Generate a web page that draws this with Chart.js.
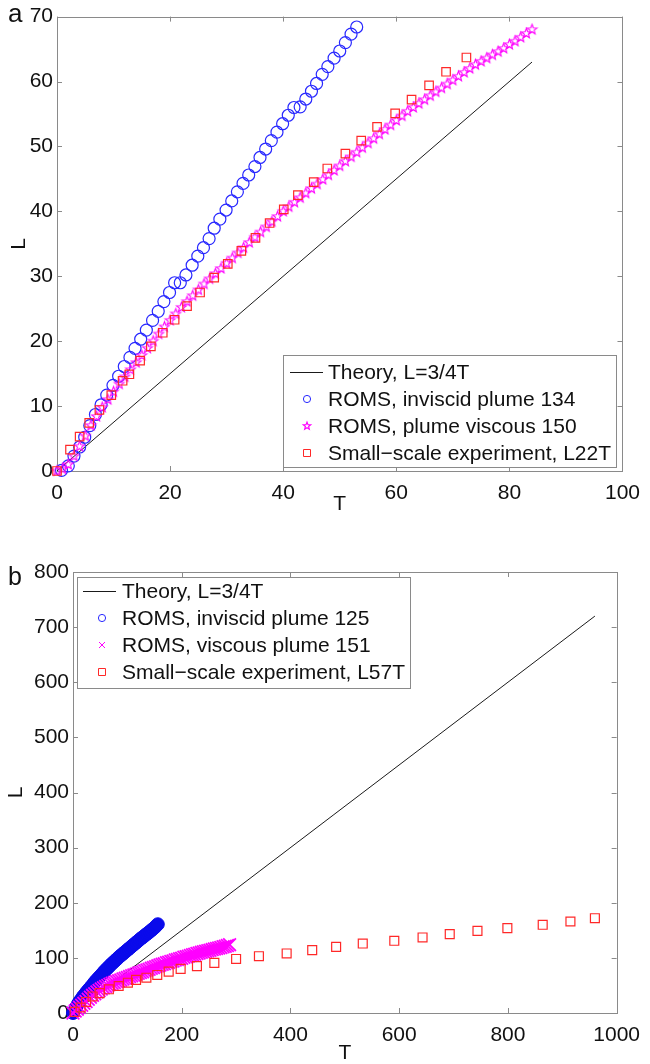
<!DOCTYPE html>
<html>
<head>
<meta charset="utf-8">
<script src="https://cdn.jsdelivr.net/npm/chart.js@4.4.1/dist/chart.umd.min.js"></script>
<style>
html, body { margin: 0; padding: 0; background: #fff; }
#wrap { position: relative; width: 650px; height: 1064px; overflow: hidden; }
.panel { position: absolute; left: 0; width: 650px; }
#top { top: 0; height: 530px; }
#bot { top: 530px; height: 534px; }
</style>
</head>
<body>
<div id="wrap">
  <div class="panel" id="top"><canvas id="chartA" width="650" height="530"></canvas></div>
  <div class="panel" id="bot"><canvas id="chartB" width="650" height="534"></canvas></div>
</div>
<script>
// ---- panel a ----
const tickTa = [0, 20, 40, 60, 80, 100];
const tickLa = [0, 10, 20, 30, 40, 50, 60, 70];

const theoryTa = [0, 84];
const theoryLa = [0, 63];

const invT134 = [0.8, 2.0, 3.0, 4.0, 4.9, 5.8, 6.8, 7.8, 8.8, 9.9, 10.9, 11.9, 12.9, 13.8, 14.8,
  15.8, 16.9, 17.9, 18.9, 19.9, 20.8, 21.8, 22.8, 23.9, 24.9, 25.9, 26.9, 27.8, 28.8, 29.9,
  30.9, 31.9, 32.9, 33.9, 35.0, 35.9, 36.9, 37.9, 38.9, 39.9, 40.9, 41.9, 43.0, 44.0, 45.0,
  45.9, 46.9, 47.9, 49.0, 50.0, 51.0, 52.0, 53.0];
const invL134 = [0.1, 0.8, 2.3, 3.7, 5.2, 7.0, 8.7, 10.2, 11.7, 13.2, 14.6, 16.1, 17.5, 18.9, 20.3,
  21.7, 23.2, 24.6, 26.1, 27.5, 29.0, 29.0, 30.2, 31.7, 33.1, 34.4, 35.8, 37.4, 38.8, 40.2,
  41.6, 43.0, 44.3, 45.6, 46.9, 48.3, 49.6, 50.9, 52.2, 53.5, 54.8, 56.0, 56.1, 57.3, 58.5,
  59.7, 61.1, 62.3, 63.6, 64.7, 66.0, 67.3, 68.4];

const viscT150 = [0, 1, 2, 3, 4, 5, 6, 7, 8, 9, 10, 11, 12, 13, 14, 15, 16, 17, 18, 19, 20,
  21, 22, 23, 24, 25, 26, 27, 28, 29, 30, 31, 32, 33, 34, 35, 36, 37, 38, 39, 40,
  41, 42, 43, 44, 45, 46, 47, 48, 49, 50, 51, 52, 53, 54, 55, 56, 57, 58, 59, 60,
  61, 62, 63, 64, 65, 66, 67, 68, 69, 70, 71, 72, 73, 74, 75, 76, 77, 78, 79, 80,
  81, 82, 83, 84];
const viscL150 = [0, 0.3, 1.0, 2.3, 3.8, 5.4, 7.0, 8.4, 9.8, 11.0, 12.2, 13.4, 14.5, 15.6, 16.7,
  17.8, 18.9, 20.0, 21.1, 22.2, 23.2, 24.2, 25.2, 26.1, 27.0, 27.9, 28.8, 29.6, 30.4, 31.2,
  32.0, 32.8, 33.6, 34.4, 35.2, 36.0, 36.8, 37.6, 38.4, 39.2, 40.0, 40.7, 41.4, 42.1, 42.8,
  43.5, 44.2, 44.9, 45.6, 46.3, 47.0, 47.7, 48.4, 49.1, 49.8, 50.5, 51.2, 51.9, 52.6, 53.3,
  54.0, 54.7, 55.4, 56.0, 56.6, 57.2, 57.8, 58.4, 59.0, 59.6, 60.2, 60.8, 61.4, 62.0, 62.6,
  63.1, 63.6, 64.1, 64.6, 65.1, 65.7, 66.2, 66.8, 67.4, 68.0];

const expT22 = [0, 2.3, 4.0, 5.7, 7.5, 9.6, 11.6, 12.8, 14.7, 16.6, 18.7, 20.8, 23.0, 25.3, 27.8,
  30.2, 32.6, 35.1, 37.6, 40.1, 42.6, 45.4, 47.8, 51.0, 53.8, 56.6, 59.8, 62.7, 65.8, 68.8, 72.4];
const expL22 = [0, 3.3, 5.3, 7.4, 9.4, 11.7, 13.9, 14.9, 17.0, 19.2, 21.3, 23.3, 25.4, 27.5, 29.8,
  31.9, 33.9, 35.9, 38.2, 40.3, 42.5, 44.5, 46.6, 48.9, 50.9, 53.0, 55.1, 57.2, 59.4, 61.5, 63.7];

// ---- panel b ----
const tickTb = [0, 200, 400, 600, 800, 1000];
const tickLb = [0, 100, 200, 300, 400, 500, 600, 700, 800];

const theoryTb = [0, 960];
const theoryLb = [0, 720];

const invT125 = [0, 3, 6, 9, 12, 15, 18, 21, 24, 27, 30, 33, 36, 39, 42, 45, 48, 51, 54, 57, 60,
  63, 66, 69, 72, 75, 78, 81, 84, 87, 90, 93, 96, 99, 102, 105, 108, 111, 114, 117, 120,
  123, 126, 129, 132, 135, 138, 141, 144, 147, 150, 153, 156];
const invL125 = [0, 5.5, 11, 16.5, 21, 25, 29.5, 33, 37, 40.5, 44, 47.5, 51, 55, 58.5, 61.5, 65, 68,
  71.5, 75, 78, 81, 84, 87, 90, 92.5, 95.5, 98, 101, 103.5, 106, 108.5, 111, 113.5, 116, 118.5,
  121, 123.5, 126, 128.5, 131, 133.5, 136, 138, 140.5, 143, 145, 147.5, 150, 152.5, 155, 158, 161];

const viscT151 = [0, 4, 8, 12, 16, 20, 24, 28, 32, 36, 40, 44, 48, 52, 56, 60, 64, 68, 72, 76, 80,
  84, 88, 92, 96, 100, 104, 108, 112, 116, 120, 124, 128, 132, 136, 140, 144, 148, 152, 156, 160,
  164, 168, 172, 176, 180, 184, 188, 192, 196, 200, 204, 208, 212, 216, 220, 224, 228, 232, 236, 240,
  244, 248, 252, 256, 260, 264, 268, 272, 276, 280, 284, 288];
const viscL151 = [0, 3.5, 7, 10.5, 14, 17.5, 21, 25, 28.5, 32, 35, 38, 41, 43.5, 46, 48, 50, 52, 54, 55.5,
  57, 58.5, 60, 61.5, 63, 64.5, 66, 67.5, 69, 70.5, 72, 73.5, 75, 76.5, 78, 79.5, 81, 82.5, 84, 85.5,
  87, 88.5, 89.5, 91, 92, 93.5, 94.5, 96, 97, 98.5, 99.5, 101, 102, 103, 104.5, 105.5, 106.5, 108,
  109, 110, 111, 112, 113, 114, 115, 116, 117, 118, 119, 120, 121, 122.5, 124];

const expT57 = [3, 14, 24, 36, 49, 66, 84, 101, 116, 135, 155, 176, 198, 228, 260, 300, 342, 393,
  440, 484, 533, 591, 643, 693, 744, 799, 864, 915, 960];
const expL57 = [2, 10, 20, 30, 36, 43, 49, 55, 60, 64, 69, 75, 80, 85, 91, 98, 103, 108,
  114, 120, 126, 131, 137, 143, 149, 154, 160, 166, 172];

const FONT = '"Liberation Sans", Arial, Helvetica, sans-serif';
const AXIS_GRAY = '#8a8a8a';
const INK = '#111';

const pts = (xs, ys) => xs.map((x, i) => ({ x: x, y: ys[i] }));

// MATLAB style pentagram marker
function starCanvas(R, color) {
    const s = Math.ceil(R * 2 + 4);
    const c = document.createElement('canvas');
    c.width = s;
    c.height = s;
    const g = c.getContext('2d');
    g.strokeStyle = color;
    g.lineWidth = 1.1;
    g.beginPath();
    for (let k = 0; k < 10; k++) {
        const r = k % 2 ? R * 0.42 : R;
        const a = -Math.PI / 2 + k * Math.PI / 5;
        const px = s / 2 + r * Math.cos(a);
        const py = s / 2 + r * Math.sin(a);
        if (k) g.lineTo(px, py); else g.moveTo(px, py);
    }
    g.closePath();
    g.stroke();
    return c;
}
const plotStar = starCanvas(5.2, '#ff00ff');
const legendStar = starCanvas(4, '#ff00ff');

// box + inward ticks on all four sides
const framePlugin = {
    id: 'frame',
    beforeDatasetsDraw(chart, args, o) {
        const { ctx, chartArea: a, scales } = chart;
        ctx.save();
        ctx.strokeStyle = AXIS_GRAY;
        ctx.lineWidth = 1;
        ctx.beginPath();
        scales.x.ticks.forEach(t => {
            const px = Math.round(scales.x.getPixelForValue(t.value)) + 0.5;
            ctx.moveTo(px, a.bottom);
            ctx.lineTo(px, a.bottom - o.len);
            ctx.moveTo(px, a.top);
            ctx.lineTo(px, a.top + o.len);
        });
        scales.y.ticks.forEach(t => {
            const py = Math.round(scales.y.getPixelForValue(t.value)) + 0.5;
            ctx.moveTo(a.left, py);
            ctx.lineTo(a.left + o.len, py);
            ctx.moveTo(a.right, py);
            ctx.lineTo(a.right - o.len, py);
        });
        ctx.stroke();
        ctx.strokeRect(Math.round(a.left) + 0.5, Math.round(a.top) + 0.5,
            Math.round(a.right - a.left), Math.round(a.bottom - a.top));
        ctx.restore();
    }
};

// legend drawn inside the axes, like MATLAB's
const boxLegendPlugin = {
    id: 'boxLegend',
    afterDatasetsDraw(chart, args, o) {
        const ctx = chart.ctx;
        const sets = chart.data.datasets;
        ctx.save();
        ctx.font = o.size + 'px ' + FONT;
        const wText = Math.max(...sets.map(d => ctx.measureText(d.label).width));
        const left = o.left, top = o.top;
        const w = Math.round(o.textX + wText + o.padR);
        const h = o.firstRow + o.rowH * (sets.length - 1) + o.padB;
        ctx.fillStyle = '#fff';
        ctx.fillRect(left, top, w, h);
        ctx.strokeStyle = AXIS_GRAY;
        ctx.lineWidth = 1;
        ctx.strokeRect(left + 0.5, top + 0.5, w, h);

        sets.forEach((d, i) => {
            const y = top + o.firstRow + i * o.rowH;
            const mx = left + o.markX;
            ctx.strokeStyle = d.legendColor;
            ctx.lineWidth = 1;
            ctx.beginPath();
            if (d.legendMark === 'line') {
                ctx.moveTo(left + o.lineX0, y + 0.5);
                ctx.lineTo(left + o.lineX1, y + 0.5);
            } else if (d.legendMark === 'circle') {
                ctx.arc(mx, y, 3.6, 0, Math.PI * 2);
            } else if (d.legendMark === 'rect') {
                ctx.rect(mx - 3.5, y - 3.5, 7, 7);
            } else if (d.legendMark === 'cross') {
                ctx.moveTo(mx - 3, y - 3); ctx.lineTo(mx + 3, y + 3);
                ctx.moveTo(mx + 3, y - 3); ctx.lineTo(mx - 3, y + 3);
            }
            ctx.stroke();
            if (d.legendMark === 'star') {
                ctx.drawImage(legendStar, mx - legendStar.width / 2, y - legendStar.height / 2);
            }
            ctx.fillStyle = INK;
            ctx.textAlign = 'left';
            ctx.textBaseline = 'middle';
            ctx.fillText(d.label, left + o.textX, y + 1);
        });
        ctx.restore();
    }
};

const panelLabelPlugin = {
    id: 'panelLabel',
    afterDraw(chart, args, o) {
        const ctx = chart.ctx;
        ctx.save();
        ctx.font = o.size + 'px ' + FONT;
        ctx.fillStyle = INK;
        ctx.textAlign = 'left';
        ctx.textBaseline = 'alphabetic';
        ctx.fillText(o.text, o.x, o.y);
        ctx.restore();
    }
};

function axis(min, max, ticks, title, fit, titlePad, isX) {
    return {
        type: 'linear',
        min: min,
        max: max,
        afterBuildTicks: s => { s.ticks = ticks.map(v => ({ value: v })); },
        afterFit: s => { if (isX) s.height = fit; else s.width = fit; },
        grid: { display: false, drawTicks: false },
        border: { display: false },
        ticks: {
            font: { family: FONT, size: 21 },
            color: INK,
            padding: isX ? 10 : 4,
            maxRotation: 0,
            autoSkip: false,
            callback: v => String(v)
        },
        title: {
            display: true,
            text: title,
            color: INK,
            font: { family: FONT, size: 21, lineHeight: 1 },
            padding: titlePad
        }
    };
}

function baseOptions(scales, legendOpts, label, padding) {
    return {
        responsive: false,
        animation: false,
        events: [],
        layout: { padding: padding, autoPadding: false },
        scales: scales,
        plugins: {
            legend: { display: false },
            tooltip: { enabled: false },
            frame: { len: 5 },
            boxLegend: legendOpts,
            panelLabel: label
        }
    };
}

// ---- chart a ----
new Chart(document.getElementById('chartA'), {
    type: 'scatter',
    data: {
        datasets: [
            {
                label: 'Theory, L=3/4T',
                data: pts(theoryTa, theoryLa),
                showLine: true, borderColor: '#1a1a1a', borderWidth: 1, pointRadius: 0,
                order: 4, clip: false, legendMark: 'line', legendColor: '#1a1a1a'
            },
            {
                label: 'ROMS, inviscid plume 134',
                data: pts(invT134, invL134),
                pointStyle: 'circle', pointRadius: 6, borderColor: 'rgb(40,40,255)', borderWidth: 1.2,
                backgroundColor: 'rgba(0,0,0,0)', order: 3, clip: false,
                legendMark: 'circle', legendColor: 'rgb(40,40,255)'
            },
            {
                label: 'ROMS, plume viscous 150',
                data: pts(viscT150, viscL150),
                pointStyle: plotStar, pointRadius: 5, order: 2, clip: false,
                legendMark: 'star', legendColor: '#ff00ff'
            },
            {
                label: 'Small\u2212scale experiment, L22T',
                data: pts(expT22, expL22),
                pointStyle: 'rect', pointRadius: 6, borderColor: 'rgb(255,40,40)', borderWidth: 1.2,
                backgroundColor: 'rgba(0,0,0,0)', order: 1, clip: false,
                legendMark: 'rect', legendColor: 'rgb(255,40,40)'
            }
        ]
    },
    options: baseOptions(
        {
            x: axis(0, 100, tickTa, 'T', 59, { top: 0, bottom: 15 }, true),
            y: axis(0, 70, tickLa, 'L', 57, { top: 9, bottom: 0 }, false)
        },
        { left: 283, top: 355, firstRow: 17, rowH: 27, padB: 14, lineX0: 7, lineX1: 40,
          markX: 24, textX: 45, padR: 5, size: 21 },
        { text: 'a', x: 8, y: 22, size: 26 },
        { left: 0, right: 22, top: 12, bottom: 0 }
    ),
    plugins: [framePlugin, boxLegendPlugin, panelLabelPlugin]
});

// ---- chart b ----
new Chart(document.getElementById('chartB'), {
    type: 'scatter',
    data: {
        datasets: [
            {
                label: 'Theory, L=3/4T',
                data: pts(theoryTb, theoryLb),
                showLine: true, borderColor: '#1a1a1a', borderWidth: 1, pointRadius: 0,
                order: 4, clip: false, legendMark: 'line', legendColor: '#1a1a1a'
            },
            {
                label: 'ROMS, inviscid plume 125',
                data: pts(invT125, invL125),
                pointStyle: 'circle', pointRadius: 6.5, borderColor: 'rgb(10,10,235)', borderWidth: 1,
                backgroundColor: 'rgb(10,10,235)', order: 3, clip: false,
                legendMark: 'circle', legendColor: 'rgb(40,40,255)'
            },
            {
                label: 'ROMS, viscous plume 151',
                data: pts(viscT151, viscL151),
                pointStyle: 'crossRot', pointRadius: 9, borderColor: '#ff00ff', borderWidth: 1.8,
                order: 2, clip: false, legendMark: 'cross', legendColor: '#ff00ff'
            },
            {
                label: 'Small\u2212scale experiment, L57T',
                data: pts(expT57, expL57),
                pointStyle: 'rect', pointRadius: 6.3, borderColor: 'rgb(255,40,40)', borderWidth: 1.2,
                backgroundColor: 'rgba(0,0,0,0)', order: 1, clip: false,
                legendMark: 'rect', legendColor: 'rgb(255,40,40)'
            }
        ]
    },
    options: baseOptions(
        {
            x: axis(0, 1000, tickTb, 'T', 51, { top: 0, bottom: 0 }, true),
            y: axis(0, 800, tickLb, 'L', 73, { top: 6, bottom: 0 }, false)
        },
        { left: 77, top: 47, firstRow: 14, rowH: 27, padB: 16, lineX0: 6, lineX1: 39,
          markX: 25, textX: 45, padR: 5, size: 21 },
        { text: 'b', x: 8, y: 55, size: 25 },
        { left: 0, right: 27, top: 42, bottom: 0 }
    ),
    plugins: [framePlugin, boxLegendPlugin, panelLabelPlugin]
});
</script>
</body>
</html>
